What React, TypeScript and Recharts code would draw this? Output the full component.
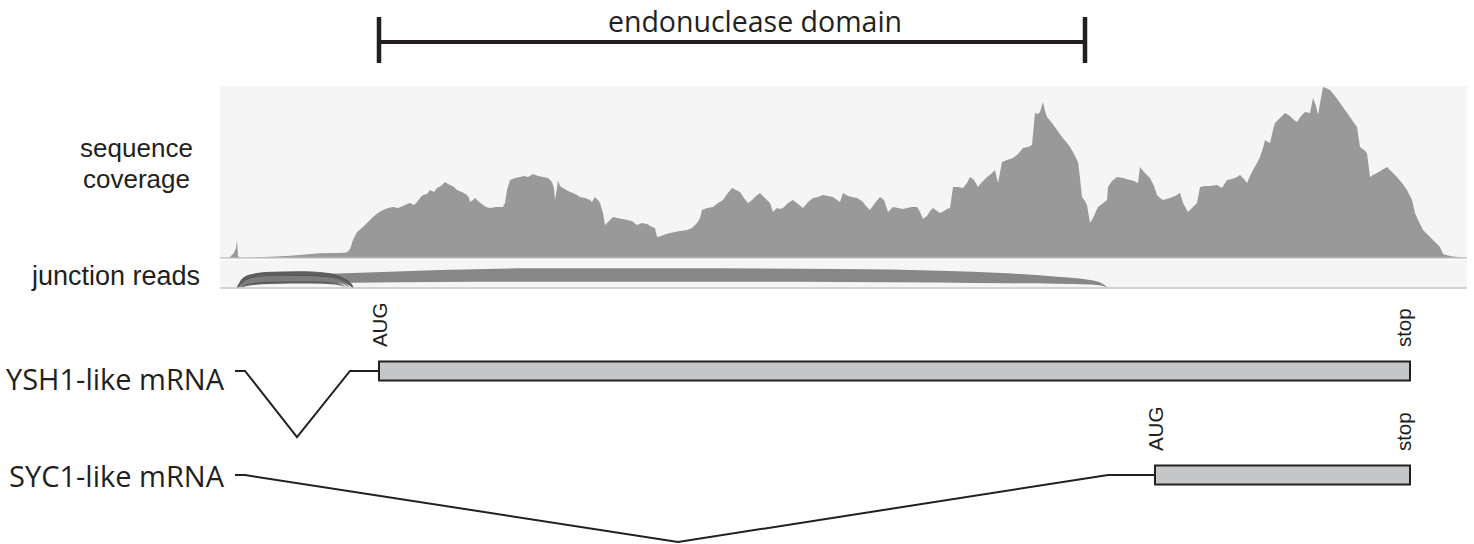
import React from "react";
import {
  AreaChart,
  Area,
  ComposedChart,
  Line,
  XAxis,
  YAxis,
  CartesianGrid,
  ReferenceLine,
  ReferenceArea,
  ReferenceDot,
} from "recharts";

// window shown in every track (positions relative to window start)
const REGION: [number, number] = [0, 1247];

// read depth along the window: [position, depth]
const coverage: [number, number][] = [
  [0, 0], [7, 0], [10, 1], [14, 5], [16, 10], [17, 18], [18, 2], [20, 0],
  [30, 0.5], [50, 1.3], [70, 2.3], [85, 3.5], [100, 4.7], [115, 5], [125, 5.3],
  [128, 6.5], [130, 9], [133, 18], [137, 26], [143, 31], [148, 36], [153, 41],
  [158, 45], [163, 48], [168, 50], [173, 51], [178, 50], [183, 52], [187, 54],
  [190, 55], [194, 53], [197, 56], [200, 60], [203, 63], [207, 64], [210, 68],
  [214, 66], [217, 70], [221, 72], [225, 76], [228, 74], [230, 73], [234, 71],
  [237, 68], [242, 66], [247, 63], [249, 60], [250, 56], [253, 58], [255, 60],
  [258, 57], [263, 53], [266, 51], [270, 50], [276, 51], [283, 51], [285, 55],
  [287, 68], [290, 78], [295, 80], [300, 81], [304, 82], [308, 81], [313, 84],
  [318, 82], [323, 81], [328, 80], [332, 76], [334, 70], [335, 58], [337, 70],
  [338, 78], [340, 72], [343, 70], [348, 67], [353, 65], [357, 63], [360, 61],
  [365, 60], [370, 58], [372, 56], [375, 61], [378, 58], [380, 55], [383, 45],
  [385, 33], [388, 36], [393, 41], [397, 40], [403, 39], [407, 38], [412, 37],
  [417, 33], [422, 35], [427, 34], [432, 31], [435, 30], [437, 21], [441, 22],
  [446, 24], [450, 25], [455, 26], [460, 27], [467, 28], [472, 30], [477, 35],
  [480, 40], [482, 48], [487, 50], [493, 51], [498, 55], [503, 58], [507, 64],
  [512, 70], [516, 68], [520, 66], [524, 60], [528, 55], [532, 58], [536, 62],
  [540, 65], [545, 60], [550, 55], [553, 46], [557, 50], [560, 49], [563, 50],
  [568, 55], [573, 58], [578, 54], [583, 50], [588, 56], [593, 60], [598, 61],
  [603, 63], [608, 62], [613, 61], [617, 58], [620, 56], [623, 65], [628, 62],
  [632, 61], [637, 60], [642, 57], [646, 52], [650, 48], [655, 55], [660, 61],
  [664, 58], [668, 46], [673, 51], [678, 50], [683, 49], [687, 50], [692, 51],
  [697, 51], [700, 46], [703, 39], [707, 42], [710, 47], [713, 50], [717, 47],
  [720, 45], [724, 47], [727, 49], [730, 50], [733, 71], [738, 71], [743, 70],
  [747, 75], [750, 81], [754, 78], [758, 71], [762, 76], [767, 81], [771, 84],
  [775, 88], [778, 75], [782, 96], [787, 98], [793, 100], [798, 104], [803, 110],
  [808, 111], [812, 113], [815, 145], [818, 144], [820, 146], [823, 156],
  [825, 147], [827, 141], [832, 135], [837, 128], [842, 121], [847, 115],
  [850, 111], [853, 106], [856, 100], [858, 96], [860, 80], [862, 61], [865, 57],
  [867, 53], [870, 35], [873, 40], [878, 51], [882, 54], [887, 58], [888, 71],
  [892, 77], [897, 81], [903, 80], [910, 78], [914, 77], [918, 75], [920, 91],
  [924, 86], [930, 80], [934, 72], [937, 63], [940, 60], [943, 58], [950, 60],
  [955, 62], [960, 65], [963, 55], [968, 46], [972, 50], [977, 55], [980, 71],
  [985, 72], [990, 72], [997, 73], [1002, 70], [1007, 78], [1012, 79],
  [1017, 81], [1020, 83], [1024, 79], [1027, 75], [1030, 82], [1033, 88],
  [1037, 95], [1040, 101], [1043, 110], [1045, 118], [1048, 116], [1050, 115],
  [1053, 128], [1055, 135], [1060, 140], [1065, 145], [1070, 142], [1074, 138],
  [1077, 136], [1081, 142], [1085, 146], [1090, 145], [1093, 160], [1096, 152],
  [1098, 143], [1101, 160], [1103, 171], [1106, 170], [1110, 168], [1115, 162],
  [1120, 155], [1125, 148], [1130, 141], [1134, 135], [1137, 131], [1140, 111],
  [1144, 108], [1147, 105], [1150, 81], [1153, 83], [1157, 85], [1162, 88],
  [1167, 91], [1170, 88], [1174, 84], [1177, 81], [1182, 75], [1187, 68],
  [1190, 62], [1192, 58], [1195, 45], [1199, 36], [1203, 28], [1208, 23],
  [1213, 18], [1217, 14], [1220, 11], [1223, 4], [1228, 2.5], [1233, 1.5],
  [1237, 1.3], [1242, 0.6], [1247, 0],
];

// junction arcs: [position, lower edge, upper edge]
const longJunction: [number, number, number][] = [
  [17, 0, 0], [22, 2, 5], [35, 4, 10], [70, 5, 13], [133, 5.3, 15],
  [220, 6, 18], [310, 6.3, 19.7], [450, 6.3, 19.8], [620, 6, 19],
  [720, 5.5, 17.3], [787, 4.7, 14.7], [837, 4.3, 11.3], [870, 3.5, 8],
  [883, 2, 4], [888, 0, 0],
];
const shortJunctionOuter: [number, number, number][] = [
  [17, 0, 0], [23, 6, 9.7], [33, 10, 13.7], [50, 12, 15.7], [83, 12.5, 16.3],
  [107, 11, 14.7], [123, 6.5, 9.7], [132, 1, 3], [133, 0, 0],
];
const shortJunctionMid: [number, number, number][] = [
  [18, 0, 0], [25, 3.5, 7], [40, 6.5, 11], [83, 7, 12], [110, 6, 10.5],
  [125, 3, 6], [130, 0, 0],
];
const shortJunctionInner: [number, number, number][] = [
  [19, 0, 0], [27, 2, 4], [50, 4, 6.5], [90, 4.5, 6.8], [115, 3.5, 5.5],
  [128, 0, 0],
];

// annotation
const DOMAIN_TITLE = "endonuclease domain";
const domainSpan = [159, 865];

const geneNames = ["YSH1-like mRNA", "SYC1-like mRNA"];
const geneRows = [0, -1];
const ysh1Intron: [number, number][] = [[15, 0], [25, 0], [77, -0.635], [130, 0], [159, 0]];
const syc1Intron: [number, number][] = [[15, -1], [25, -1], [458, -1.644], [888, -1], [935, -1]];
const cdsStart = [159, 935];
const cdsEnd = [1190, 1190];
const codonLabels = ["AUG", "stop"];

const INK = "#231f20";
const SANS = "'Liberation Sans', Arial, sans-serif";
const MYRIAD = "'Open Sans', 'Noto Sans', sans-serif";
const W = 1474;
const H = 544;
const MARGIN_X = { left: 220, right: 7 };
const BOX_HALF = 0.092;
const CODON_LIFT = 0.23;
const GENE_LABEL_DY = [19, 12];

const coverageRows = coverage.map(([pos, depth]) => ({ pos, depth }));
const toBand = (arc: [number, number, number][]) =>
  arc.map(([pos, lo, hi]) => ({ pos, band: [lo, hi] }));
const toLine = (pts: [number, number][]) => pts.map(([pos, v]) => ({ pos, v }));

const GeneTick = (props: any) => {
  const { x, y, payload } = props;
  const i = geneRows.indexOf(payload.value);
  return (
    <text x={x + 12} y={y + (GENE_LABEL_DY[i] ?? 0)} textAnchor="end" fontFamily={MYRIAD} fontSize={29} fill={INK}>
      {geneNames[i]}
    </text>
  );
};

const codonShape = (label: string) => (p: any) => {
  const x = p.cx + (label === "AUG" ? 8 : 1);
  const y = p.cy;
  return (
    <text x={x} y={y} transform={`rotate(-90 ${x} ${y})`} fontFamily={SANS} fontSize={20.5} fill={INK}>
      {label}
    </text>
  );
};

const App = () => {
  return (
    <div style={{ position: "absolute", left: 0, top: 0, width: W, height: H, background: "#fff", overflow: "hidden" }}>
      {/* protein domain bar */}
      <div style={{ position: "absolute", left: 0, top: 0 }}>
        <ComposedChart width={W} height={80} margin={{ top: 17, bottom: 17, ...MARGIN_X }}>
          <XAxis type="number" dataKey="pos" domain={REGION} hide allowDataOverflow />
          <YAxis type="number" domain={[0, 1]} hide allowDataOverflow />
          <ReferenceLine segment={[{ x: domainSpan[0], y: 0.4565 }, { x: domainSpan[1], y: 0.4565 }]} stroke={INK} strokeWidth={4} />
          <ReferenceLine segment={[{ x: domainSpan[0], y: 0 }, { x: domainSpan[0], y: 1 }]} stroke={INK} strokeWidth={4.5} />
          <ReferenceLine segment={[{ x: domainSpan[1], y: 0 }, { x: domainSpan[1], y: 1 }]} stroke={INK} strokeWidth={4.5} />
        </ComposedChart>
      </div>

      {/* coverage track */}
      <div style={{ position: "absolute", left: 0, top: 86 }}>
        <AreaChart width={W} height={173} data={coverageRows} margin={{ top: 0, bottom: 1, ...MARGIN_X }}>
          <CartesianGrid fill="#f5f5f5" horizontal={false} vertical={false} stroke="none" />
          <XAxis type="number" dataKey="pos" domain={REGION} hide allowDataOverflow />
          <YAxis type="number" domain={[0, 172]} hide allowDataOverflow />
          <Area type="linear" dataKey="depth" stroke="none" fill="#999999" fillOpacity={1} isAnimationActive={false} />
          <ReferenceLine y={0} stroke="#c6c6c6" strokeWidth={1.5} />
        </AreaChart>
      </div>

      {/* junction track */}
      <div style={{ position: "absolute", left: 0, top: 259 }}>
        <ComposedChart width={W} height={30} margin={{ top: 1, bottom: 1, ...MARGIN_X }}>
          <CartesianGrid fill="#f5f5f5" horizontal={false} vertical={false} stroke="none" />
          <XAxis type="number" dataKey="pos" domain={REGION} hide allowDataOverflow />
          <YAxis type="number" domain={[0, 28]} hide allowDataOverflow />
          <Area data={toBand(longJunction)} type="monotone" dataKey="band" stroke="none" fill="#878787" fillOpacity={1} isAnimationActive={false} />
          <Area data={toBand(shortJunctionOuter)} type="monotone" dataKey="band" stroke="#4a4a4a" strokeWidth={0.8} fill="#5e5e5e" fillOpacity={1} isAnimationActive={false} />
          <Area data={toBand(shortJunctionMid)} type="monotone" dataKey="band" stroke="none" fill="#7a7a7a" fillOpacity={0.9} isAnimationActive={false} />
          <Area data={toBand(shortJunctionInner)} type="monotone" dataKey="band" stroke="none" fill="#555555" fillOpacity={0.9} isAnimationActive={false} />
          <ReferenceLine y={0} stroke="#c6c6c6" strokeWidth={1.5} />
        </ComposedChart>
      </div>

      {/* gene models */}
      <div style={{ position: "absolute", left: 0, top: 300 }}>
        <ComposedChart width={W} height={244} margin={{ top: 0, bottom: 0, left: 0, right: MARGIN_X.right }}>
          <XAxis type="number" dataKey="pos" domain={REGION} hide allowDataOverflow />
          <YAxis
            type="number"
            dataKey="v"
            domain={[-1.6635, 0.6827]}
            allowDataOverflow
            width={220}
            axisLine={false}
            tickLine={false}
            ticks={geneRows}
            interval={0}
            tick={GeneTick}
          />
          {cdsStart.map((s, i) => (
            <ReferenceArea
              key={`cds-${i}`}
              x1={s}
              x2={cdsEnd[i]}
              y1={geneRows[i] - BOX_HALF}
              y2={geneRows[i] + BOX_HALF}
              fill="#c5c6c8"
              fillOpacity={1}
              stroke={INK}
              strokeWidth={2}
              ifOverflow="visible"
            />
          ))}
          <Line data={toLine(ysh1Intron)} type="linear" dataKey="v" stroke={INK} strokeWidth={2} dot={false} isAnimationActive={false} />
          <Line data={toLine(syc1Intron)} type="linear" dataKey="v" stroke={INK} strokeWidth={2} dot={false} isAnimationActive={false} />
          {geneRows.flatMap((row, i) => [
            <ReferenceDot key={`aug-${i}`} x={cdsStart[i]} y={row + CODON_LIFT} r={0} ifOverflow="visible" shape={codonShape(codonLabels[0])} />,
            <ReferenceDot key={`stop-${i}`} x={cdsEnd[i]} y={row + CODON_LIFT} r={0} ifOverflow="visible" shape={codonShape(codonLabels[1])} />,
          ])}
        </ComposedChart>
      </div>

      {/* track labels */}
      <svg width={W} height={H} style={{ position: "absolute", left: 0, top: 0, pointerEvents: "none" }}>
        <text x={755} y={32} textAnchor="middle" fontFamily={MYRIAD} fontSize={28.5} fill={INK}>
          {DOMAIN_TITLE}
        </text>
        <text x={136.5} y={156.5} textAnchor="middle" fontFamily={SANS} fontSize={26} fill={INK}>
          sequence
        </text>
        <text x={136.5} y={187.5} textAnchor="middle" fontFamily={SANS} fontSize={26} fill={INK}>
          coverage
        </text>
        <text x={200} y={285} textAnchor="end" fontFamily={SANS} fontSize={27} fill={INK}>
          junction reads
        </text>
      </svg>
    </div>
  );
};

export default App;
